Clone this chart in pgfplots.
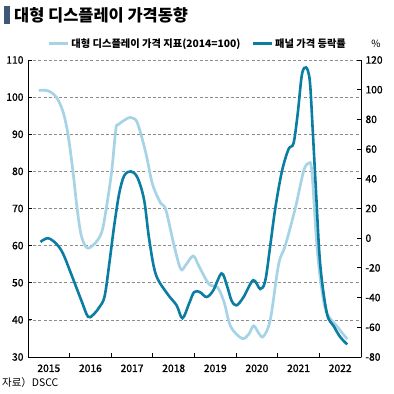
\documentclass[border=0pt]{standalone}
\usepackage{pgfplots}
\pgfplotsset{compat=1.18}
\usepackage{fontspec}
\setmainfont{Noto Sans CJK KR}
\newfontface\medfont{Noto Sans CJK KR}[RawFeature={embolden=1.3}]
\definecolor{lightb}{HTML}{A6D3E5}
\definecolor{darkb}{HTML}{0B7DA3}
\definecolor{titlebar}{HTML}{3E5877}
\definecolor{gridc}{HTML}{8C8C8C}
\pgfplotsset{
  /pgf/number format/assume math mode=true,
  basestyle/.style={
    at={(28bp,37bp)}, anchor=south west, scale only axis,
    width=333bp, height=297bp,
    xmin=2015, xmax=2023,
    axis line style={-, black, line width=0.9bp},
    tick align=inside, major tick length=4bp,
    tick style={black, line width=0.8bp},
    ticklabel style={font=\medfont\fontsize{10.3}{12}\selectfont},
  }
}
\begin{document}
\begin{tikzpicture}[x=1bp,y=1bp]
\useasboundingbox (0,0) rectangle (394,394);
% title
\fill[titlebar] (4,370) rectangle (9.5,388);
\node[anchor=west, inner sep=0pt, font=\bfseries\fontsize{16.5}{18}\selectfont] at (14,379) {대형 디스플레이 가격동향};
\node[anchor=west, inner sep=0pt, font=\fontsize{10.5}{12}\selectfont] at (2,11) {자료）DSCC};
\node[anchor=center, inner sep=0pt, font=\fontsize{10}{12}\selectfont] at (376,350) {\%};

\begin{axis}[basestyle,
  ymin=30, ymax=110,
  axis x line*=bottom, axis y line*=left,
  xtick={2016,...,2022}, xticklabels={},
  extra x ticks={2015.5,2016.5,2017.5,2018.5,2019.5,2020.5,2021.5,2022.5},
  extra x tick labels={2015,2016,2017,2018,2019,2020,2021,2022},
  extra x tick style={major tick length=0pt, grid=none},
  ytick={30,40,...,110},
  ymajorgrids,
  grid style={gridc, line width=0.6bp, dash pattern=on 3bp off 2.2bp},
  yticklabel style={anchor=east, xshift=-1bp},
  xticklabel style={yshift=-4bp},
]
\addplot[lightb, line width=2.7bp, smooth, tension=0.55] coordinates {
(2015.26,101.8) (2015.48,101.7) (2015.68,100) (2015.84,96.1) (2015.96,90)
(2016.08,80) (2016.18,70) (2016.28,62.7) (2016.42,59.4) (2016.60,60.5)
(2016.77,63.6) (2016.88,70) (2017.01,80) (2017.11,91.3) (2017.17,92.6)
(2017.39,94.3) (2017.50,94.4) (2017.63,93) (2017.83,85) (2017.99,76.6)
(2018.19,71.4) (2018.31,69.7) (2018.51,60) (2018.67,53.7) (2018.79,54.8)
(2018.97,57.2) (2019.11,54.4) (2019.35,49.6) (2019.55,48.8) (2019.71,44.8)
(2019.87,38.2) (2020.14,35) (2020.30,36.1) (2020.42,38.4) (2020.54,36.5)
(2020.65,35.5) (2020.82,40) (2021.02,54.9) (2021.18,60) (2021.42,70)
(2021.62,80) (2021.74,82.2) (2021.82,80) (2021.94,60) (2022.06,48)
(2022.18,41.8) (2022.42,38.3) (2022.67,34.8)
};
\end{axis}

\begin{axis}[basestyle,
  ymin=-80, ymax=120,
  axis x line=none, axis y line*=right,
  ytick={-80,-60,...,120},
  yticklabel style={anchor=west, xshift=1bp},
  legend style={at={(0.51,1.03)}, anchor=south, draw=none, fill=none,
    legend columns=2, font=\bfseries\fontsize{10.3}{12}\selectfont,
    /tikz/every even column/.append style={column sep=9bp},
    inner sep=0pt},
  legend image code/.code={\draw[#1] (0bp,0bp) -- (19bp,0bp);},
]
\addlegendimage{lightb, line width=2.7bp}
\addlegendentry{대형 디스플레이 가격 지표(2014=100)}
\addplot[darkb, line width=2.6bp, smooth, tension=0.55] coordinates {
(2015.30,-2.5) (2015.48,0) (2015.68,-3.75) (2015.84,-10.3) (2016.04,-24.3)
(2016.28,-41.8) (2016.44,-52.8) (2016.56,-51.7) (2016.72,-46.2) (2016.84,-39.2)
(2016.95,-17.8) (2017.07,8.3) (2017.19,30) (2017.31,42) (2017.47,45)
(2017.63,40.8) (2017.79,25.7) (2017.91,-0.4) (2018.07,-24.3) (2018.35,-37.5)
(2018.57,-45.2) (2018.71,-53.9) (2018.87,-44) (2018.99,-36.3) (2019.13,-36.3)
(2019.29,-39.6) (2019.45,-35.2) (2019.65,-23.7) (2019.78,-32) (2019.89,-42)
(2020.01,-45.2) (2020.18,-39.6) (2020.41,-28.3) (2020.58,-34.2) (2020.70,-28.7)
(2020.82,-5) (2020.94,20) (2021.10,45) (2021.26,60) (2021.38,64)
(2021.48,84) (2021.58,110) (2021.68,115) (2021.77,106) (2021.84,73)
(2021.92,31) (2022.02,-17.6) (2022.18,-50.5) (2022.34,-59) (2022.50,-66.5)
(2022.67,-71.5)
};
\addlegendentry{패널 가격 등락률}
\end{axis}
\end{tikzpicture}
\end{document}
